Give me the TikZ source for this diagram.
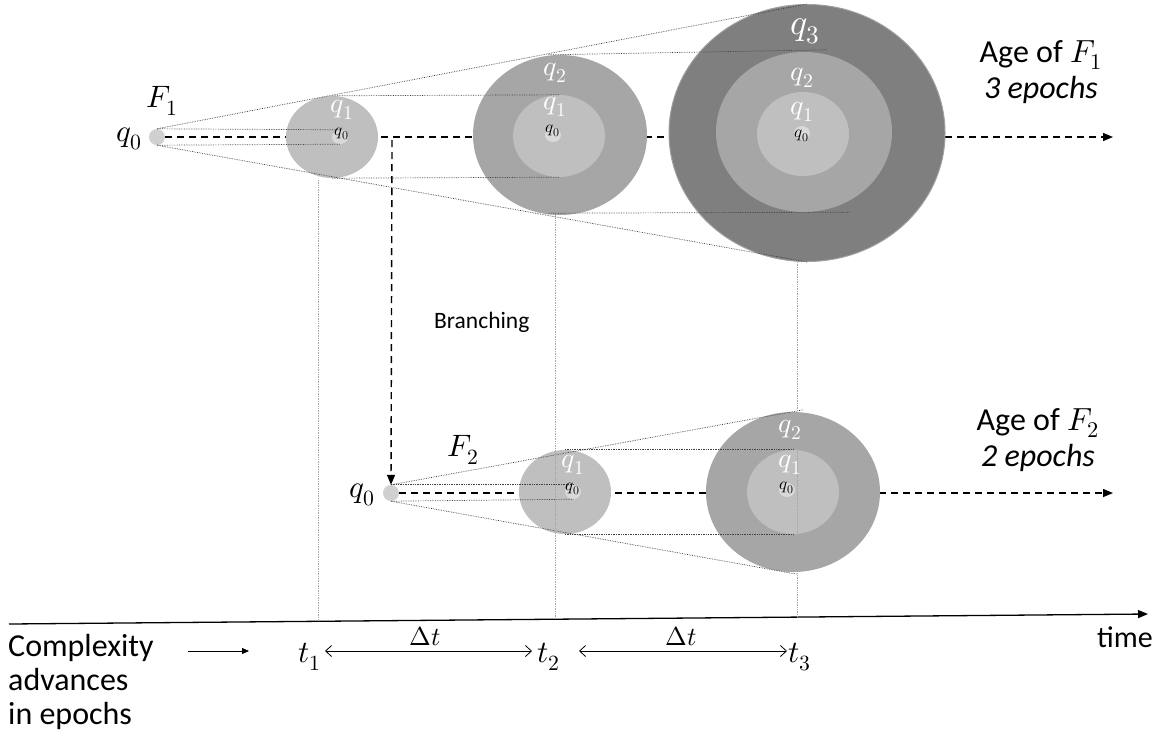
\documentclass[tikz,border=0pt]{standalone}
\usepackage{fontspec}
\usepackage{unicode-math}
\setmainfont{Carlito}
\setmathfont{latinmodern-math.otf}
\usetikzlibrary{shapes.geometric,arrows.meta,backgrounds,calc}
\definecolor{gA}{HTML}{BFBFBF}
\definecolor{gB}{HTML}{A6A6A6}
\definecolor{gC}{HTML}{7F7F7F}
\definecolor{gD}{HTML}{D9D9D9}
\definecolor{gE}{HTML}{D0D0D0}
\begin{document}
\begin{tikzpicture}[x=1pt,y=-1pt,
  ring/.style={ellipse, inner sep=0pt, draw=none},
  cone/.style={densely dotted, line width=0.7pt, black!75},
  vline/.style={densely dotted, line width=0.7pt, black!35},
  flow/.style={dash pattern=on 7pt off 5pt, line width=1.4pt, -{Triangle[length=10pt,width=8pt]}},
  biglab/.style={inner sep=0pt, font=\fontsize{31}{34}\selectfont},
  wlab/.style={inner sep=0pt, text=white, font=\fontsize{28}{30}\selectfont},
  slab/.style={inner sep=0pt, font=\fontsize{17}{18}\selectfont},
  txt/.style={inner sep=0pt, font=\fontsize{32}{36}\selectfont},
  dt/.style={line width=0.8pt, {Straight Barb[length=6pt,width=11pt]}-{Straight Barb[length=6pt,width=11pt]}}
]
\useasboundingbox (0,0) rectangle (1161,732);

% ---------- F1 row ----------
\node[ring, fill=gE, minimum width=16pt, minimum height=16pt] (F1q0) at (157,137) {};
\node[ring, fill=gA, minimum width=92pt, minimum height=82pt] (A1) at (332,137) {};
\node[ring, fill=gD, minimum width=16pt, minimum height=14pt] (A1q0) at (340,137) {};

\node[ring, fill=gB, minimum width=174pt, minimum height=160pt] (A2) at (560,135) {};
\node[ring, fill=gA, minimum width=92pt, minimum height=82pt] (A2i) at (559,136) {};
\node[ring, fill=gD, minimum width=16pt, minimum height=14pt] (A2q0) at (553,135) {};

\node[ring, fill=gC, draw=gray!75, line width=1pt, minimum width=276pt, minimum height=257pt] (A3) at (807,133) {};
\node[ring, fill=gB, minimum width=176pt, minimum height=160pt] (A3m) at (804,132) {};
\node[ring, fill=gA, minimum width=92pt, minimum height=84pt] (A3i) at (803,134) {};
\node[ring, fill=gD, minimum width=16pt, minimum height=14pt] (A3q0) at (802,133) {};

\coordinate (end1) at (1113,137);
\coordinate (br) at (392,140);

% ---------- F2 row ----------
\node[ring, fill=gE, minimum width=16pt, minimum height=16pt] (F2q0) at (391,493) {};
\node[ring, fill=gA, minimum width=92pt, minimum height=84pt] (B1) at (565,492) {};
\node[ring, fill=gD, minimum width=16pt, minimum height=14pt] (B1q0) at (573,492) {};
\node[ring, fill=gB, minimum width=174pt, minimum height=160pt] (B2) at (793,492) {};
\node[ring, fill=gA, minimum width=92pt, minimum height=84pt] (B2i) at (793,492) {};
\node[ring, fill=gD, minimum width=16pt, minimum height=14pt] (B2q0) at (787,490) {};
\coordinate (end2) at (1113,493);

% ---------- dashed flows behind ----------
\begin{scope}[on background layer]
  \draw[flow] (F1q0.east) -- (end1);
  \draw[flow] (F2q0.east) -- (end2);
\end{scope}
\draw[flow] (br) -- (F2q0.north);

% ---------- dotted cone lines F1 ----------
\draw[cone] (F1q0.north) -- (A3.north);
\draw[cone] (F1q0.south) -- (A3.south);
\draw[cone] (F1q0.north) -- (A1q0.north);
\draw[cone] (F1q0.south) -- (A1q0.south);
\draw[cone] (A1.north) -- (A2i.north);
\draw[cone] (A1.south) -- (A2i.south);
\draw[cone] ($(A2.north)+(-12,0)$) -- ($(A3m.north)+(22,-2)$);
\draw[cone] ($(A2.south)+(-12,-2)$) -- ($(A3m.south)+(46,0)$);

% ---------- dotted cone lines F2 ----------
\draw[cone] (F2q0.north) -- ($(B2.north)+(10,-2)$);
\draw[cone] (F2q0.south) -- ($(B2.south)+(4,2)$);
\draw[cone] (F2q0.north) -- (B1q0.north);
\draw[cone] (F2q0.south) -- (B1q0.south);
\draw[cone] (B1.north) -- (B2i.north);
\draw[cone] (B1.south) -- (B2i.south);

% ---------- time axis ----------
\coordinate (ax0) at (9,624);
\coordinate (ax1) at (1148,614);
\draw[line width=1.3pt, -{Triangle[length=10pt,width=8pt]}] (ax0) -- (ax1);
\coordinate (v1a) at (318,180); \coordinate (v1b) at (318,621);
\coordinate (v2a) at (555,215); \coordinate (v2b) at (555,619);
\coordinate (v3a) at (797,262); \coordinate (v3b) at (797,617);
\draw[vline] (v1a) -- (v1b);
\draw[vline] (v2a) -- (v2b);
\draw[vline] (v3a) -- (v3b);

% ---------- labels ----------
\node[biglab] (lF1q0) at (129,139) {$q_0$};
\node[biglab] (lF1) at (162,101) {$F_1$};
\node[wlab] (lA1q1) at (342,110) {$q_1$};
\node[slab] (lA1q0) at (342,134) {$q_0$};
\node[wlab] (lA2q2) at (555,73) {$q_2$};
\node[wlab] (lA2q1) at (555,107) {$q_1$};
\node[slab] (lA2q0) at (553,131) {$q_0$};
\node[wlab, font=\fontsize{36}{38}\selectfont] (lA3q3) at (805,31) {$q_3$};
\node[wlab] (lA3q2) at (802,78) {$q_2$};
\node[wlab] (lA3q1) at (802,112) {$q_1$};
\node[slab] (lA3q0) at (802,136) {$q_0$};

\node[biglab] (lF2q0) at (362,495) {$q_0$};
\node[biglab] (lF2) at (463,450) {$F_2$};
\node[wlab] (lB1q1) at (573,465) {$q_1$};
\node[slab] (lB1q0) at (573,489) {$q_0$};
\node[wlab] (lB2q2) at (790,430) {$q_2$};
\node[wlab] (lB2q1) at (790,465) {$q_1$};
\node[slab] (lB2q0) at (787,488) {$q_0$};

\node[txt, anchor=base] (age1) at (1041,62) {Age of $F_1$};
\node[txt, anchor=base] (ep1) at (1041,98) {\itshape 3 epochs};
\node[txt, anchor=base] (age2) at (1038,430) {Age of $F_2$};
\node[txt, anchor=base] (ep2) at (1038,466) {\itshape 2 epochs};
\node[txt, anchor=base west, font=\fontsize{23.5}{26}\selectfont] (branch) at (434,328) {Branching};

\node[biglab] (t1) at (310,657) {$t_1$};
\node[biglab] (t2) at (549,657) {$t_2$};
\node[biglab] (t3) at (800,657) {$t_3$};
\coordinate (d1a) at (325,651); \coordinate (d1b) at (532,651);
\coordinate (d2a) at (579,651); \coordinate (d2b) at (787,651);
\draw[dt] (d1a) -- (d1b);
\draw[dt] (d2a) -- (d2b);
\node[biglab, font=\fontsize{26}{28}\selectfont] (dt1) at (425,636) {$\Delta t$};
\node[biglab, font=\fontsize{26}{28}\selectfont] (dt2) at (681,636) {$\Delta t$};
\node[txt, anchor=base, font=\fontsize{30}{32}\selectfont] (time) at (1125,647) {time};

\node[txt, anchor=base west] (cx1) at (8,656) {Complexity};
\node[txt, anchor=base west] (cx2) at (8,690) {advances};
\node[txt, anchor=base west] (cx3) at (8,724) {in epochs};
\coordinate (ca) at (188,651);
\coordinate (cb) at (249,651);
\draw[line width=0.8pt, -{Triangle[length=7pt,width=6pt]}] (ca) -- (cb);
\end{tikzpicture}
\end{document}
